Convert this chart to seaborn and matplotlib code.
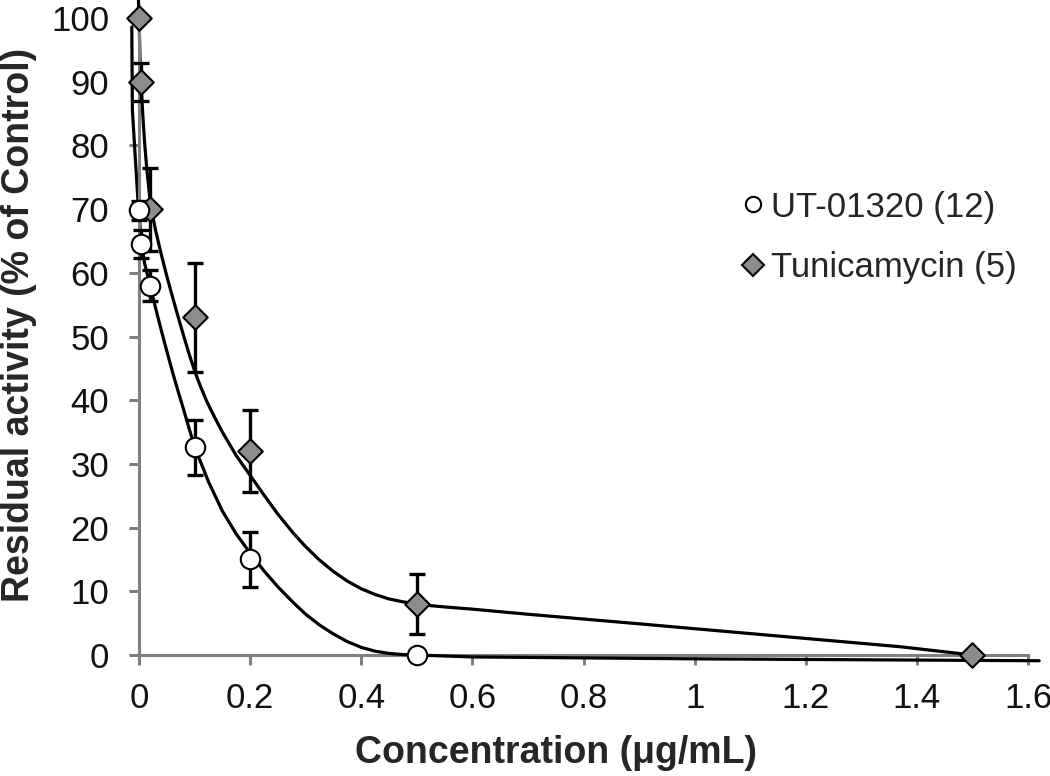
import matplotlib
matplotlib.use("Agg")
import matplotlib.pyplot as plt
from matplotlib.lines import Line2D
import seaborn as sns
import pandas as pd

# measured points (mean +/- error)
ut_x = [0.0, 0.004, 0.02, 0.1, 0.2, 0.5]
ut_y = [69.8, 64.5, 58.0, 32.6, 15.0, 0.0]
ut_err = [1.5, 2.2, 2.5, 4.3, 4.3, 0.0]

tun_x = [0.0, 0.004, 0.02, 0.1, 0.2, 0.5, 1.5]
tun_y = [100.0, 90.0, 70.0, 53.0, 32.0, 8.0, 0.0]
tun_err = [0.0, 3.0, 6.5, 8.5, 6.4, 4.7, 0.0]

# fitted curves
ut_curve_x = [-0.013, -0.012, -0.002, 0.0, 0.004, 0.01, 0.02, 0.03, 0.04, 0.05,
              0.06, 0.07, 0.08, 0.09, 0.1, 0.125, 0.15, 0.175, 0.2, 0.225, 0.25,
              0.278, 0.3, 0.325, 0.35, 0.375, 0.4, 0.425, 0.45, 0.475, 0.5,
              0.6, 1.0, 1.62]
ut_curve_y = [98.6, 85.6, 71.4, 69.8, 64.5, 61.5, 58.0, 54.4, 51.0, 47.7,
              44.5, 41.5, 38.6, 35.6, 32.7, 27.2, 22.6, 19.0, 16.0, 13.2, 10.7,
              8.2, 6.4, 4.7, 3.3, 2.1, 1.2, 0.6, 0.25, 0.07, 0.0,
              -0.3, -0.6, -0.9]

tun_curve_x = [-0.001, 0.0, 0.002, 0.004, 0.007, 0.01, 0.014, 0.018, 0.022, 0.03,
               0.04, 0.05, 0.06, 0.07, 0.08, 0.09, 0.1, 0.11, 0.122, 0.135, 0.15,
               0.175, 0.2, 0.225, 0.25, 0.278, 0.3, 0.325, 0.35, 0.375, 0.4,
               0.425, 0.45, 0.475, 0.5, 0.525, 0.55, 0.6, 0.7, 0.9, 1.2, 1.37, 1.5]
tun_curve_y = [102.8, 100.0, 93.0, 89.0, 84.5, 80.5, 76.3, 72.9, 70.0, 66.6,
               62.9, 59.5, 56.3, 53.2, 50.2, 47.3, 44.6, 42.3, 39.8, 37.5, 35.0,
               31.3, 28.2, 25.1, 22.1, 19.1, 17.0, 14.9, 13.1, 11.6, 10.4,
               9.5, 8.8, 8.35, 8.0, 7.75, 7.55, 7.2, 6.4, 4.9, 2.6, 1.3, 0.0]

labels = ["UT-01320 (12)", "Tunicamycin (5)"]
x_ticks = [0, 0.2, 0.4, 0.6, 0.8, 1, 1.2, 1.4, 1.6]
x_ticklabels = ["0", "0.2", "0.4", "0.6", "0.8", "1", "1.2", "1.4", "1.6"]
y_ticks = list(range(0, 101, 10))

sns.set_style("white")
plt.rcParams["font.family"] = ["Liberation Sans", "DejaVu Sans"]

grey = "#808080"
fill = "#8c8c8c"

fig = plt.figure(figsize=(10.5, 7.76), dpi=100)
ax = fig.add_axes([0.1324, 0.1559, 0.8467, 0.8209])

ut_curve = pd.DataFrame({"x": ut_curve_x, "y": ut_curve_y})
tun_curve = pd.DataFrame({"x": tun_curve_x, "y": tun_curve_y})
sns.lineplot(data=ut_curve, x="x", y="y", sort=False, color="black", lw=2.3,
             ax=ax, clip_on=False, zorder=2)
sns.lineplot(data=tun_curve, x="x", y="y", sort=False, color="black", lw=2.3,
             ax=ax, clip_on=False, zorder=2)

ax.errorbar(ut_x, ut_y, yerr=ut_err, fmt="none", ecolor="black", elinewidth=2.4,
            capsize=6, capthick=2.4, zorder=3, clip_on=False)
ax.errorbar(tun_x, tun_y, yerr=tun_err, fmt="none", ecolor="black", elinewidth=2.4,
            capsize=6, capthick=2.4, zorder=3, clip_on=False)

sns.scatterplot(x=tun_x, y=tun_y, marker="D", s=12.5 ** 2, color=fill,
                edgecolor="black", linewidth=1.5, ax=ax, zorder=4, clip_on=False)
sns.scatterplot(x=ut_x, y=ut_y, marker="o", s=14 ** 2, color="white",
                edgecolor="black", linewidth=1.5, ax=ax, zorder=5, clip_on=False)

ax.set_xlim(0, 1.6)
ax.set_ylim(0, 100)
ax.set_xticks(x_ticks)
ax.set_xticklabels(x_ticklabels)
ax.set_yticks(y_ticks)

for side in ["top", "right"]:
    ax.spines[side].set_visible(False)
for side in ["left", "bottom"]:
    ax.spines[side].set_color(grey)
    ax.spines[side].set_linewidth(2.2)
ax.spines["bottom"].set_zorder(1)

ax.tick_params(axis="both", color=grey, width=2.2, length=7.5, labelsize=25,
               direction="out", bottom=True, left=True, labelcolor="#111111")
ax.tick_params(axis="x", pad=12)
ax.tick_params(axis="y", pad=14)

ax.set_xlabel("Concentration (μg/mL)", fontsize=27, fontweight="bold")
ax.set_ylabel("Residual activity (% of Control)", fontsize=27, fontweight="bold")
ax.xaxis.set_label_coords(0.469, -0.126)
ax.yaxis.set_label_coords(-0.115, 0.518)

handles = [
    Line2D([], [], ls="none", marker="o", markersize=11, markerfacecolor="white",
           markeredgecolor="black", markeredgewidth=1.5),
    Line2D([], [], ls="none", marker="D", markersize=11, markerfacecolor=fill,
           markeredgecolor="black", markeredgewidth=1.5),
]
fig.legend(handles, labels, loc="center left", bbox_to_anchor=(0.691, 0.694),
           frameon=False, fontsize=25, handletextpad=0.1, handlelength=0.8,
           labelspacing=0.8, borderaxespad=0)

fig.savefig("out.png", dpi=100)
